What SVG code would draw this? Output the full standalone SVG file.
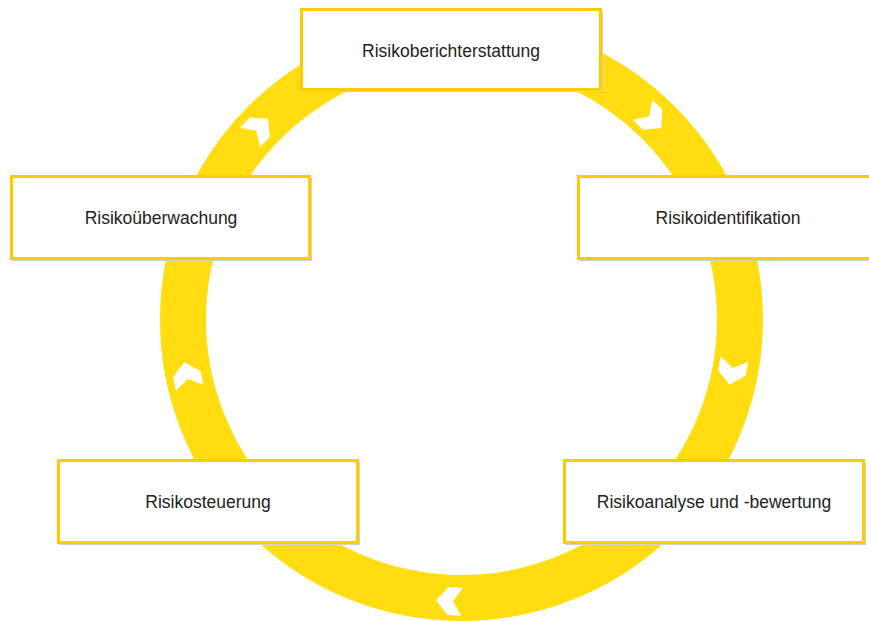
<svg xmlns="http://www.w3.org/2000/svg" width="869" height="621" viewBox="0 0 869 621">
  <defs>
    <style>
      .ring { fill: none; stroke: #FFDD10; stroke-width: 46; }
      .box { fill: #FFFFFF; stroke: #FFCC00; stroke-width: 3; }
      .shadow { fill: #D0D0D0; }
      .lbl { font-family: "Liberation Sans", Arial, sans-serif; font-size: 17.5px; fill: #222222; text-anchor: middle; dominant-baseline: central; }
      .chev { fill: #FFFFFF; }
    </style>
    <polygon id="chevron" points="13,0 1,14 -13,14 -4,0 -13,-14 1,-14"/>
  </defs>
  <rect width="869" height="621" fill="#FFFFFF"/>
  <g id="connectors">
    <circle class="ring" cx="461.5" cy="319.5" r="278.5"/>
    <use href="#chevron" class="chev" transform="translate(259,128) rotate(-46)"/>
    <use href="#chevron" class="chev" transform="translate(652,119) rotate(44)"/>
    <use href="#chevron" class="chev" transform="translate(732,372) rotate(101)"/>
    <use href="#chevron" class="chev" transform="translate(449,601) rotate(183)"/>
    <use href="#chevron" class="chev" transform="translate(187,375) rotate(-102)"/>
  </g>
  <g id="node-berichterstattung">
    <rect class="shadow" x="302" y="11" width="301" height="81"/>
    <rect class="box" x="301.5" y="9.5" width="299" height="80"/>
    <text class="lbl" x="451" y="51">Risikoberichterstattung</text>
  </g>
  <g id="node-identifikation">
    <rect class="shadow" x="579" y="178" width="300" height="83"/>
    <rect class="box" x="578.5" y="176.5" width="300" height="82"/>
    <text class="lbl" x="728" y="218">Risikoidentifikation</text>
  </g>
  <g id="node-analyse">
    <rect class="shadow" x="565" y="462" width="301" height="83"/>
    <rect class="box" x="564.5" y="460.5" width="299" height="82"/>
    <text class="lbl" x="714" y="502">Risikoanalyse und -bewertung</text>
  </g>
  <g id="node-steuerung">
    <rect class="shadow" x="59" y="462" width="301" height="83"/>
    <rect class="box" x="58.5" y="460.5" width="299" height="82"/>
    <text class="lbl" x="208" y="502">Risikosteuerung</text>
  </g>
  <g id="node-ueberwachung">
    <rect class="shadow" x="12" y="178" width="300" height="83"/>
    <rect class="box" x="11.5" y="176.5" width="298" height="82"/>
    <text class="lbl" x="161" y="218">Risikoüberwachung</text>
  </g>
</svg>
